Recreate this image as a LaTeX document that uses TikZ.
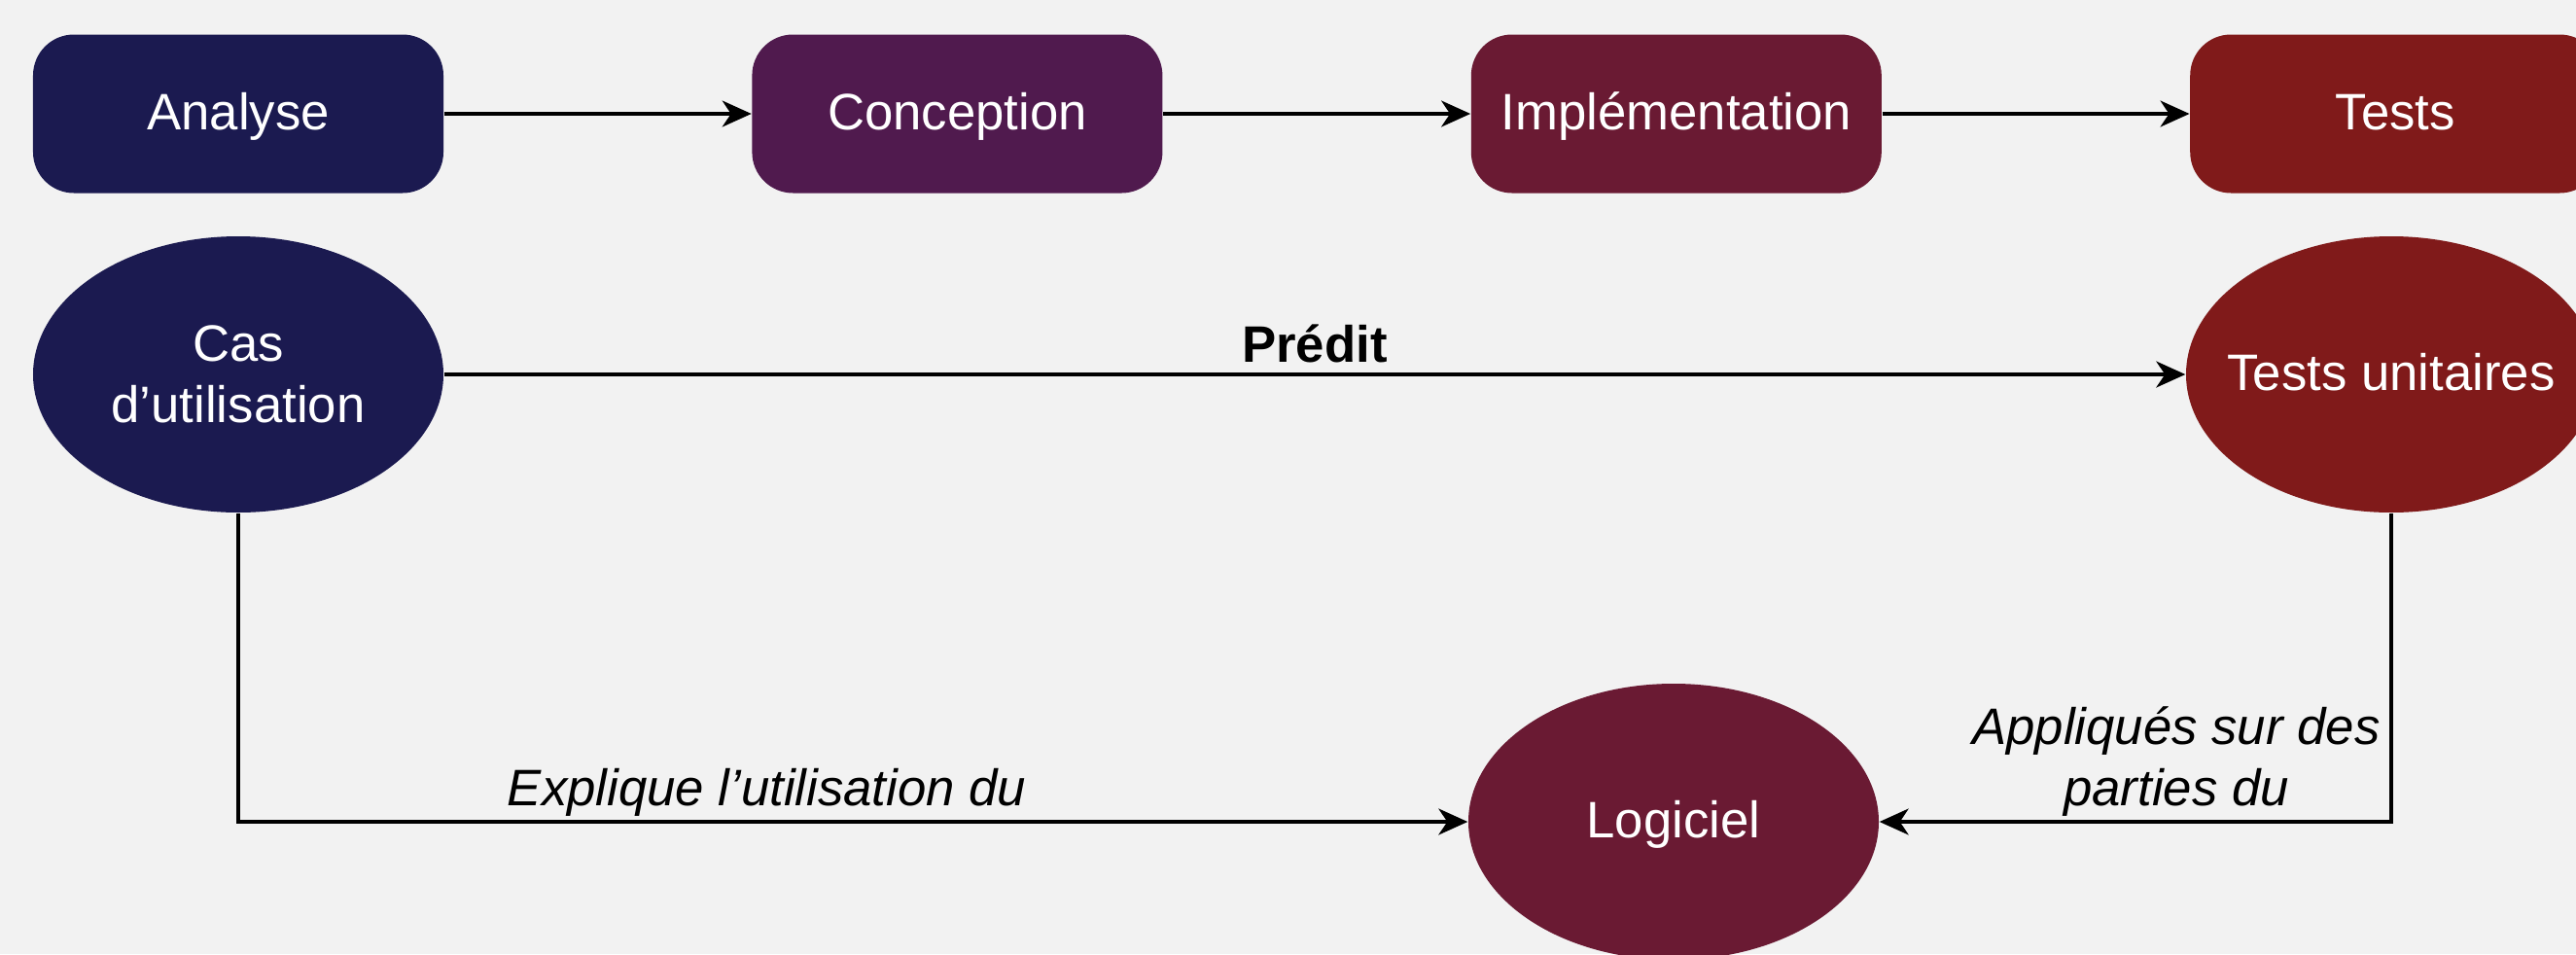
\documentclass[tikz,border=0pt]{standalone}
\usepackage{fontspec}
\setmainfont{Liberation Sans}
\usetikzlibrary{positioning,shapes.geometric,arrows.meta}
\definecolor{fondgris}{HTML}{F2F2F2}
\definecolor{bleunuit}{HTML}{1B1A50}
\definecolor{prune}{HTML}{501A4E}
\definecolor{bordeaux}{HTML}{6A1A33}
\definecolor{rougebrique}{HTML}{801A1A}
\tikzset{
  etape/.style = {rectangle, rounded corners=0.42cm, fill=#1, text=white,
    minimum width=4.22cm, minimum height=1.63cm, inner sep=0pt,
    text height=13.5pt, text depth=3.9pt},
  artefact/.style = {ellipse, fill=#1, text=white, align=center,
    minimum width=4.22cm, minimum height=2.84cm, inner sep=0pt, inner xsep=-0.4cm},
  uneligne/.style = {text height=13.5pt, text depth=3.9pt},
  fleche/.style = {-{Stealth[length=0.3cm,width=0.27cm,inset=0.09cm]}, line width=0.9pt},
  etiquette/.style = {above, inner sep=1pt, align=center, font=\fontsize{15}{18}\selectfont\itshape}
}

\begin{document}
\begin{tikzpicture}[node distance=3.16cm, font=\fontsize{15}{18}\selectfont]
    \fill[fondgris] (0,0) rectangle (26.49,-9.81);
    \useasboundingbox (0,0) rectangle (26.49,-9.81);
    % les etapes
    \node[etape=bleunuit] (analyse) at (2.45,-1.17) {Analyse};
    \node[etape=prune, right=of analyse] (conception) {Conception};
    \node[etape=bordeaux, right=of conception] (implementation) {Implémentation};
    \node[etape=rougebrique, right=of implementation] (tests) {Tests};
    % les artefacts
    \node[artefact=bleunuit] (cas) at (2.45,-3.85) {Cas\\d’utilisation};
    \node[artefact=rougebrique, uneligne] (unitaires) at (24.59,-3.85) {Tests unitaires};
    \node[artefact=bordeaux, uneligne] (logiciel) at (17.21,-8.45) {Logiciel};
    \draw[fleche] (analyse) -- (conception);
    \draw[fleche] (conception) -- (implementation);
    \draw[fleche] (implementation) -- (tests);
    \draw[fleche] (cas) -- node[above, inner sep=3pt] {\textbf{Prédit}} (unitaires);
    \draw[fleche] (cas.south) |- node[etiquette, pos=0.715] {Explique l’utilisation du} (logiciel.west);
    \draw[fleche] (unitaires.south) |- node[etiquette, pos=0.71] {Appliqués sur des\\parties du} (logiciel.east);
\end{tikzpicture}
\end{document}
